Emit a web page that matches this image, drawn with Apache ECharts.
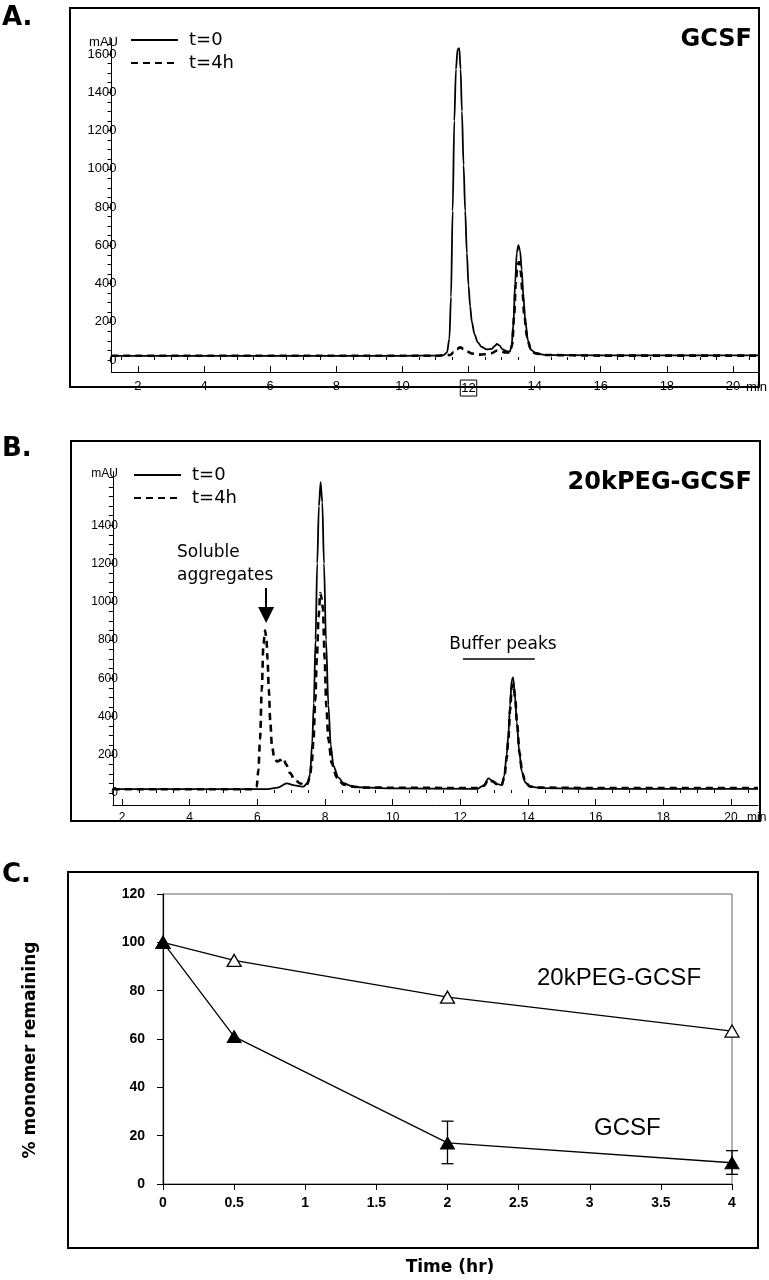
<!DOCTYPE html>
<html><head><meta charset="utf-8">
<script src="https://cdn.jsdelivr.net/npm/echarts@6/dist/echarts.min.js"></script>
<style>html,body{margin:0;padding:0;background:#fff}#c{width:769px;height:1280px}</style>
</head><body><div id="c"></div>
<script>
// ---- Panel A: GCSF chromatogram (time min, mAU)
const aSolid = [[1.2,22],[4,22],[8,22],[10,22],[11.0,23],[11.25,26],[11.35,40],[11.42,110],[11.47,330],[11.52,780],[11.57,1250],[11.62,1520],[11.67,1625],[11.72,1630],[11.76,1520],[11.8,1300],[11.85,1020],[11.9,780],[11.95,560],[12.0,390],[12.05,280],[12.1,200],[12.18,135],[12.28,92],[12.4,68],[12.55,56],[12.7,58],[12.8,74],[12.86,84],[12.93,76],[13.03,56],[13.15,46],[13.25,44],[13.3,70],[13.36,190],[13.41,400],[13.46,560],[13.51,600],[13.56,570],[13.61,470],[13.66,330],[13.72,200],[13.8,100],[13.9,52],[14.05,34],[14.3,27],[15,25],[17,24],[20.76,24]];
const aDashed = [[1.2,22],[8,22],[11.0,22],[11.45,26],[11.55,40],[11.65,58],[11.75,66],[11.85,58],[11.95,45],[12.1,34],[12.3,28],[12.5,30],[12.7,36],[12.85,48],[12.95,46],[13.1,40],[13.25,38],[13.32,80],[13.38,230],[13.43,400],[13.48,500],[13.53,512],[13.58,460],[13.63,360],[13.69,230],[13.77,120],[13.87,60],[14.0,36],[14.3,26],[16,23],[20.76,23]];
// ---- Panel B: 20kPEG-GCSF chromatogram
const bSolid = [[1.73,20],[4,20],[5.9,20],[6.3,20],[6.6,28],[6.87,50],[7.1,40],[7.36,33],[7.5,55],[7.56,100],[7.62,260],[7.67,470],[7.72,800],[7.77,1200],[7.82,1500],[7.87,1625],[7.92,1520],[7.97,1200],[8.03,800],[8.1,460],[8.17,250],[8.25,140],[8.4,80],[8.55,52],[8.75,38],[9.0,30],[10,24],[12.5,22],[12.7,40],[12.83,76],[12.95,64],[13.1,46],[13.22,42],[13.3,90],[13.37,200],[13.42,300],[13.47,460],[13.52,590],[13.56,605],[13.61,520],[13.67,370],[13.74,220],[13.82,110],[13.92,55],[14.06,33],[14.4,25],[16,22],[20.8,22]];
const bDashed = [[1.73,20],[5.9,20],[5.98,32],[6.03,120],[6.08,280],[6.13,540],[6.18,780],[6.23,850],[6.27,800],[6.3,700],[6.34,540],[6.38,380],[6.43,250],[6.5,185],[6.58,165],[6.68,172],[6.77,182],[6.85,150],[6.97,104],[7.1,70],[7.27,50],[7.46,42],[7.55,80],[7.61,160],[7.66,280],[7.71,480],[7.76,710],[7.81,920],[7.86,1045],[7.9,1020],[7.94,960],[7.99,700],[8.04,450],[8.1,280],[8.2,156],[8.35,80],[8.55,44],[8.8,33],[9.2,28],[12.5,26],[12.7,38],[12.83,70],[12.95,60],[13.1,44],[13.22,40],[13.3,80],[13.37,180],[13.42,280],[13.47,430],[13.52,550],[13.57,570],[13.62,500],[13.68,360],[13.75,210],[13.83,105],[13.93,55],[14.06,34],[14.4,28],[16,26],[20.8,26]];
// annotation anchors (data coords)
const aggArrow = [[6.26,1072],[6.26,931]];
const bufferBar = [[12.08,700],[14.2,700]];
// ---- tick labels
const chromYTicksA = [0,200,400,600,800,1000,1200,1400,1600];
const chromYTicksB = [0,200,400,600,800,1000,1200,1400];
const chromYMinor = [0,50,100,150,200,250,300,350,400,450,500,550,600,650,700,750,800,850,900,950,1000,1050,1100,1150,1200,1250,1300,1350,1400,1450,1500,1550,1600,1650];
const chromXTicks = [2,4,6,8,10,12,14,16,18,20];
const chromXMinor = [1.5,2.5,3,3.5,4.5,5,5.5,6.5,7,7.5,8.5,9,9.5,10.5,11,11.5,12.5,13,13.5,14.5,15,15.5,16.5,17,17.5,18.5,19,19.5,20.5];
// ---- Panel C: % monomer remaining
const timeHr = [0,0.5,2,4];
const pegRemaining = [100,92.5,77.3,63.3];
const gcsfRemaining = [100,61,17,8.8];
const gcsfErrLow = [null,null,8.4,4];
const gcsfErrHigh = [null,null,26,13.8];

const chart = echarts.init(document.getElementById('c'), null, {renderer:'canvas'});
const ARIAL = "'Liberation Sans', Arial, sans-serif";
const DV = "'DejaVu Sans', Verdana, sans-serif";
const solidStyle = {color:'#000', width:1.8, type:'solid'};
const dashStyle = {color:'#000', width:2.6, type:[7,5]};

function chromX(idx, gridIdx, min, max, fs, margin){
  return [{
    gridIndex:gridIdx, type:'value', min:min, max:max, position:'bottom',
    axisLine:{show:true, onZero:false, lineStyle:{color:'#000', width:1}},
    axisTick:{show:true, inside:true, length:6, customValues:chromXTicks, lineStyle:{color:'#000'}},
    axisLabel:{show:true, customValues:chromXTicks, margin:margin, color:'#000', fontFamily:ARIAL, fontSize:fs,
      formatter: v => (idx===0 && v===12) ? '{box|12}' : String(v),
      rich:{box:{borderColor:'#000', borderWidth:1, padding:[2,1,1,1], fontFamily:ARIAL, fontSize:fs, color:'#000'}}},
    splitLine:{show:false}
  },{
    gridIndex:gridIdx, type:'value', min:min, max:max, position:'bottom',
    axisLine:{show:false},
    axisTick:{show:true, inside:true, length:3, customValues:chromXMinor, lineStyle:{color:'#000'}},
    axisLabel:{show:false}, splitLine:{show:false}
  }];
}
function chromY(gridIdx, ticks, fs){
  return {
    gridIndex:gridIdx, type:'value', min:-63, max:1680,
    axisLine:{show:true, onZero:false, lineStyle:{color:'#000', width:1}},
    axisTick:{show:true, length:4, customValues:chromYMinor, lineStyle:{color:'#000'}},
    axisLabel:{show:true, customValues:ticks, margin:-5, color:'#000', fontFamily:ARIAL, fontSize:fs, formatter: v => String(v)},
    splitLine:{show:false}
  };
}

const errData = timeHr.map((t,i)=> gcsfErrLow[i]==null ? null : [t, gcsfErrLow[i], gcsfErrHigh[i]]).filter(d=>d);

const legendCommon = {orient:'vertical', itemWidth:47, itemHeight:18, itemGap:5,
  data:['t=0','t=4h'],
  itemStyle:{opacity:0, borderWidth:0},
  textStyle:{fontFamily:DV, fontSize:18, color:'#000', lineHeight:18, padding:[0,0,0,6]}, selectedMode:false};

const option = {
  animation:false,
  backgroundColor:'#fff',
  grid:[
    {left:111.5, top:38.7, width:646.6, height:333.35},
    {left:112.9, top:471.7, width:645.1, height:333.35},
    {left:163, top:894, width:569, height:290, show:true, borderColor:'#666', borderWidth:1}
  ],
  xAxis:[
    ...chromX(0, 0, 1.2, 20.76, 13, 8),
    ...chromX(1, 1, 1.73, 20.8, 12, 7),
    {gridIndex:2, type:'value', min:0, max:4, interval:0.5,
     axisLine:{show:true, onZero:false, lineStyle:{color:'#000', width:1.2}},
     axisTick:{show:true, length:6, lineStyle:{color:'#000'}},
     axisLabel:{margin:12, color:'#000', fontFamily:ARIAL, fontWeight:'bold', fontSize:14},
     splitLine:{show:false}}
  ],
  yAxis:[
    chromY(0, chromYTicksA, 13),
    chromY(1, chromYTicksB, 12),
    {gridIndex:2, type:'value', min:0, max:120, interval:20,
     axisLine:{show:true, onZero:false, lineStyle:{color:'#000', width:1.2}},
     axisTick:{show:true, length:6, lineStyle:{color:'#000'}},
     axisLabel:{margin:18, color:'#000', fontFamily:ARIAL, fontWeight:'bold', fontSize:14},
     splitLine:{show:false}}
  ],
  legend:[
    Object.assign({left:125, top:26}, legendCommon),
    Object.assign({left:128, top:461}, legendCommon)
  ],
  series:[
    {name:'t=0', type:'line', xAxisIndex:0, yAxisIndex:0, data:aSolid, symbol:'none', smooth:0.3, smoothMonotone:'x', lineStyle:solidStyle, itemStyle:{color:'#000'}, z:3},
    {name:'t=4h', type:'line', xAxisIndex:0, yAxisIndex:0, data:aDashed, symbol:'none', smooth:0.3, smoothMonotone:'x', lineStyle:dashStyle, itemStyle:{color:'#000'}, z:2},
    {name:'t=0', type:'line', xAxisIndex:2, yAxisIndex:1, data:bSolid, symbol:'none', smooth:0.3, smoothMonotone:'x', lineStyle:solidStyle, itemStyle:{color:'#000'}, z:3},
    {name:'t=4h', type:'line', xAxisIndex:2, yAxisIndex:1, data:bDashed, symbol:'none', smooth:0.3, smoothMonotone:'x', lineStyle:dashStyle, itemStyle:{color:'#000'}, z:2,
     markLine:{silent:true, animation:false, label:{show:false}, emphasis:{disabled:true},
       data:[
         [{coord:aggArrow[0], symbol:'none', lineStyle:{color:'#000', width:2, type:'solid'}},
          {coord:aggArrow[1], symbol:'triangle', symbolSize:[16,16]}],
         [{coord:bufferBar[0], symbol:'none', lineStyle:{color:'#000', width:1.5, type:'solid'}},
          {coord:bufferBar[1], symbol:'none'}]
       ]}},
    {name:'20kPEG-GCSF', type:'line', xAxisIndex:4, yAxisIndex:2, data:timeHr.map((t,i)=>[t,pegRemaining[i]]),
     symbol:'triangle', symbolSize:[14,12], lineStyle:{color:'#000', width:1.3}, itemStyle:{color:'#fff', borderColor:'#000', borderWidth:1.3}, z:4},
    {name:'GCSF', type:'line', xAxisIndex:4, yAxisIndex:2, data:timeHr.map((t,i)=>[t,gcsfRemaining[i]]),
     symbol:'triangle', symbolSize:[14,12], lineStyle:{color:'#000', width:1.3}, itemStyle:{color:'#000', borderColor:'#000', borderWidth:1}, z:4},
    {name:'err', type:'custom', xAxisIndex:4, yAxisIndex:2, data:errData, encode:{x:0, y:[1,2]}, z:3,
     renderItem:(params, api)=>{
       const x = api.value(0), lo = api.value(1), hi = api.value(2);
       const a = api.coord([x, lo]), b = api.coord([x, hi]);
       const w = 6, st = {stroke:'#000', lineWidth:1.3};
       return {type:'group', children:[
         {type:'line', shape:{x1:a[0], y1:a[1], x2:b[0], y2:b[1]}, style:st},
         {type:'line', shape:{x1:a[0]-w, y1:a[1], x2:a[0]+w, y2:a[1]}, style:st},
         {type:'line', shape:{x1:b[0]-w, y1:b[1], x2:b[0]+w, y2:b[1]}, style:st}
       ]};
     }}
  ],
  graphic:[
    {type:'rect', shape:{x:70, y:8, width:689, height:379}, style:{fill:'none', stroke:'#000', lineWidth:2}, z:10},
    {type:'rect', shape:{x:71, y:441, width:689, height:380}, style:{fill:'none', stroke:'#000', lineWidth:2}, z:10},
    {type:'rect', shape:{x:68, y:872, width:690, height:376}, style:{fill:'none', stroke:'#000', lineWidth:2}, z:10},
    {type:'text', x:2, y:18, style:{text:'A.', font:"bold 26px 'DejaVu Sans'", fill:'#000', verticalAlign:'middle'}},
    {type:'text', x:2, y:449, style:{text:'B.', font:"bold 26px 'DejaVu Sans'", fill:'#000', verticalAlign:'middle'}},
    {type:'text', x:2, y:875, style:{text:'C.', font:"bold 26px 'DejaVu Sans'", fill:'#000', verticalAlign:'middle'}},
    {type:'text', x:752, y:40, style:{text:'GCSF', font:"bold 24px 'DejaVu Sans'", fill:'#000', align:'right', verticalAlign:'middle'}},
    {type:'text', x:752, y:483, style:{text:'20kPEG-GCSF', font:"bold 24px 'DejaVu Sans'", fill:'#000', align:'right', verticalAlign:'middle'}},
    {type:'text', x:118, y:42, style:{text:'mAU', font:"13px 'Liberation Sans'", fill:'#000', align:'right', verticalAlign:'middle'}},
    {type:'text', x:118, y:474, style:{text:'mAU', font:"12px 'Liberation Sans'", fill:'#000', align:'right', verticalAlign:'middle'}},
    {type:'text', x:746, y:387, style:{text:'min', font:"13px 'Liberation Sans'", fill:'#000', verticalAlign:'middle'}},
    {type:'text', x:747, y:818, style:{text:'min', font:"12px 'Liberation Sans'", fill:'#000', verticalAlign:'middle'}},
    {type:'text', x:177, y:553, style:{text:'Soluble', font:"17px 'DejaVu Sans'", fill:'#000', verticalAlign:'middle'}},
    {type:'text', x:177, y:576, style:{text:'aggregates', font:"17px 'DejaVu Sans'", fill:'#000', verticalAlign:'middle'}},
    {type:'text', x:503, y:645, style:{text:'Buffer peaks', font:"17px 'DejaVu Sans'", fill:'#000', align:'center', verticalAlign:'middle'}},
    {type:'text', x:537, y:978, style:{text:'20kPEG-GCSF', font:"24px 'Liberation Sans'", fill:'#000', verticalAlign:'middle'}},
    {type:'text', x:594, y:1128, style:{text:'GCSF', font:"24px 'Liberation Sans'", fill:'#000', verticalAlign:'middle'}},
    {type:'text', x:31, y:1050, rotation:Math.PI/2, style:{text:'% monomer remaining', font:"bold 17px 'DejaVu Sans'", fill:'#000', align:'center', verticalAlign:'middle'}},
    {type:'text', x:450, y:1268, style:{text:'Time (hr)', font:"bold 17px 'DejaVu Sans'", fill:'#000', align:'center', verticalAlign:'middle'}}
  ]
};
chart.setOption(option);
</script></body></html>
